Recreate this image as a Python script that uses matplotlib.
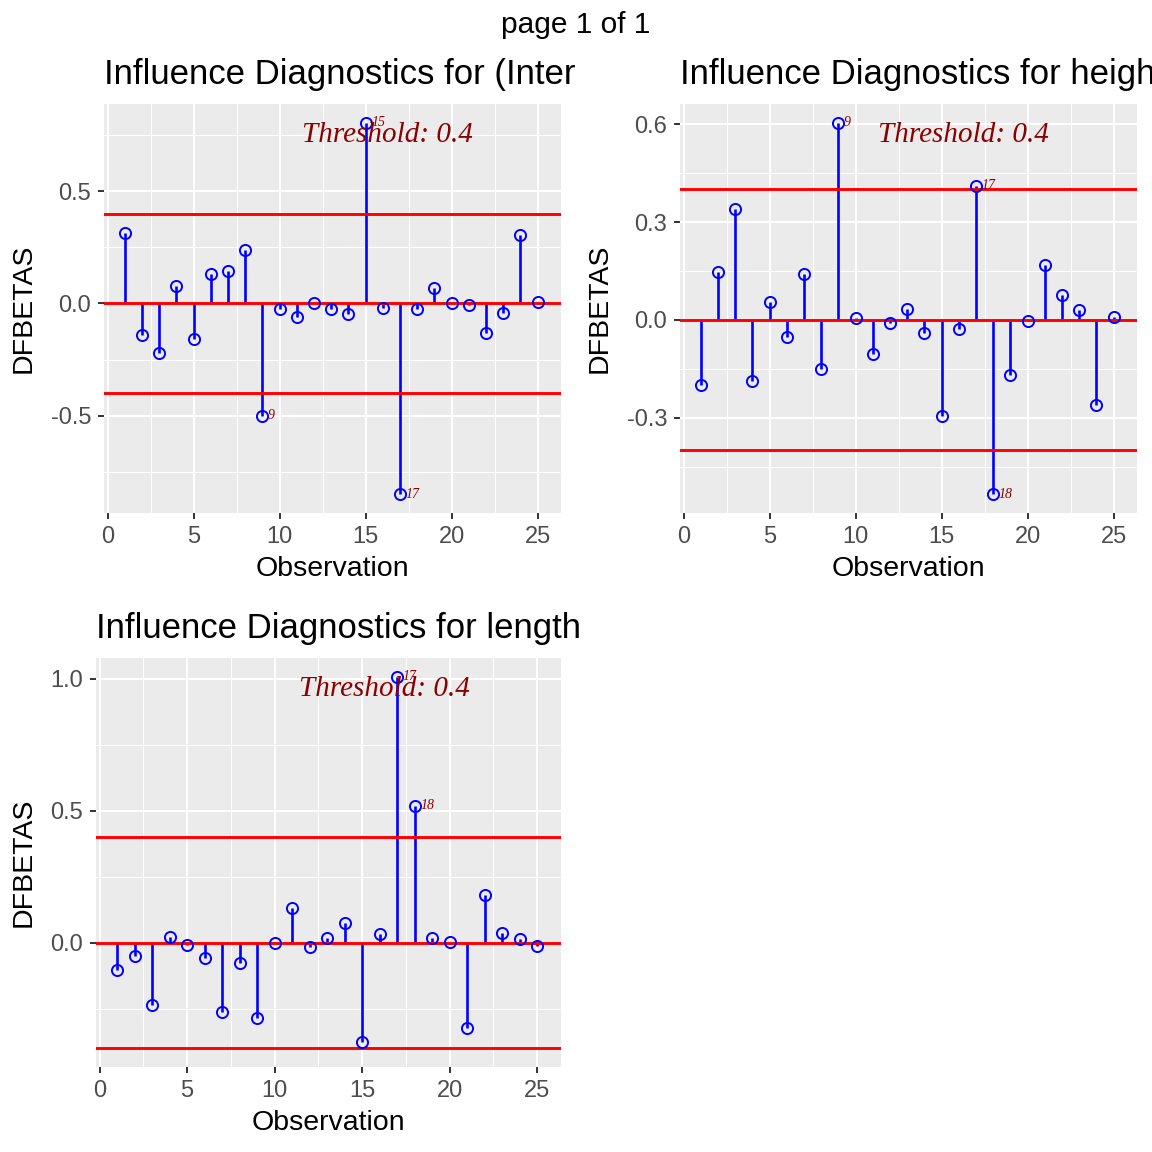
import matplotlib
matplotlib.use('Agg')
import matplotlib.pyplot as plt
from matplotlib.ticker import MultipleLocator, FormatStrFormatter
from matplotlib.transforms import Bbox

plt.rcParams['font.family'] = ['Liberation Sans', 'DejaVu Sans']
plt.rcParams['axes.unicode_minus'] = False

obs = list(range(1, 26))
threshold = 0.4

dfb_intercept = [0.315, -0.141, -0.223, 0.077, -0.157, 0.129, 0.145, 0.237, -0.500, -0.025,
                 -0.062, 0.003, -0.024, -0.049, 0.806, -0.019, -0.850, -0.024, 0.070, 0.001,
                 -0.009, -0.134, -0.042, 0.306, 0.006]
dfb_height = [-0.201, 0.148, 0.339, -0.186, 0.055, -0.051, 0.142, -0.151, 0.605, 0.007,
              -0.104, -0.009, 0.034, -0.039, -0.293, -0.027, 0.412, -0.534, -0.168, -0.003,
              0.169, 0.076, 0.030, -0.262, 0.008]
dfb_length = [-0.101, -0.051, -0.237, 0.021, -0.010, -0.058, -0.261, -0.077, -0.284, -0.001,
              0.131, -0.016, 0.018, 0.077, -0.375, 0.034, 1.009, 0.520, 0.018, 0.004,
              -0.324, 0.182, 0.039, 0.016, -0.011]

titles = ['Influence Diagnostics for (Intercept)',
          'Influence Diagnostics for height',
          'Influence Diagnostics for length']
y_steps = [0.5, 0.3, 0.5]

W = 1152
fig = plt.figure(figsize=(11.52, 11.52), dpi=100)


def px_axes(l, t, r, b):
    return fig.add_axes([l / W, 1 - b / W, (r - l) / W, (b - t) / W])


boxes = [(104, 104, 561, 512.7), (680, 104, 1137, 512.7), (96, 658, 561, 1067)]
clip_right = [576, 1152, 1152]

for vals, title, step, box, cr in zip([dfb_intercept, dfb_height, dfb_length], titles,
                                      y_steps, boxes, clip_right):
    ax = px_axes(*box)
    ax.set_facecolor('#EBEBEB')
    for s in ax.spines.values():
        s.set_visible(False)

    ax.vlines(obs, 0, vals, color='blue', lw=1.9, zorder=3)
    for h in [0, threshold, -threshold]:
        ax.axhline(h, color='red', lw=2.1, zorder=4)
    ax.plot(obs, vals, 'o', mfc='none', mec='blue', ms=8, mew=1.4, zorder=5)

    for x, v in zip(obs, vals):
        if abs(v) > threshold:
            ax.annotate(str(x), (x, v), xytext=(4, 0), textcoords='offset points',
                        ha='left', va='center', fontsize=10, style='italic',
                        family='Liberation Serif', color='#8B0000', zorder=6)

    ax.text(0.62, 0.925, 'Threshold: ' + str(threshold), transform=ax.transAxes,
            ha='center', va='center', fontsize=21, style='italic',
            family='Liberation Serif', color='#8B0000', zorder=6)

    lo = min(min(vals), -threshold)
    hi = max(max(vals), threshold)
    pad = (hi - lo) * 0.05
    ax.set_ylim(lo - pad, hi + pad)
    xpad = (25.15 - 1) * 0.05
    ax.set_xlim(1 - xpad, 25.15 + xpad)

    ax.xaxis.set_major_locator(MultipleLocator(5))
    ax.xaxis.set_minor_locator(MultipleLocator(2.5))
    ax.yaxis.set_major_locator(MultipleLocator(step))
    ax.yaxis.set_minor_locator(MultipleLocator(step / 2))
    ax.yaxis.set_major_formatter(FormatStrFormatter('%.1f'))
    ax.grid(which='major', color='white', lw=1.5)
    ax.grid(which='minor', color='white', lw=0.75)
    ax.set_axisbelow(True)
    ax.tick_params(which='major', direction='out', length=4.3, width=1.4, color='#333333',
                   labelcolor='#4D4D4D', labelsize=17, pad=5)
    ax.tick_params(which='minor', length=0)

    ax.set_xlabel('Observation', fontsize=20.5, labelpad=6)
    ax.set_ylabel('DFBETAS', fontsize=20.5, labelpad=10)

    t = ax.text(0, 1.05, title, transform=ax.transAxes, ha='left', va='baseline',
                fontsize=25, color='black')
    t.set_clip_box(Bbox.from_extents(0, 0, cr, W))
    t.set_clip_on(True)

fig.text(0.5, 1 - 33.3 / W, 'page 1 of 1', ha='center', va='baseline', fontsize=21.5)

fig.savefig('out.png', dpi=100)
